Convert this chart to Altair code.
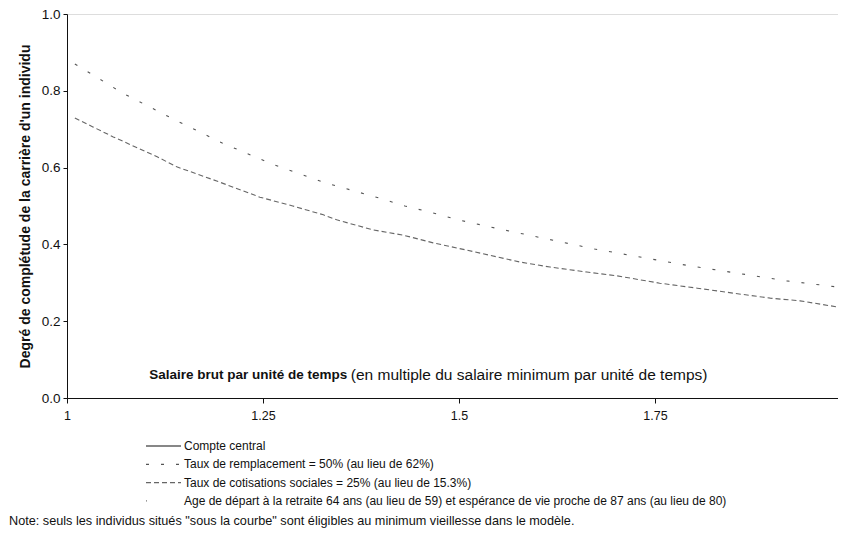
import altair as alt
import pandas as pd

# --- data ---
series_names = [
    "Compte central",
    "Taux de remplacement = 50% (au lieu de 62%)",
    "Taux de cotisations sociales = 25% (au lieu de 15.3%)",
    "Age de départ à la retraite 64 ans (au lieu de 59) et espérance de vie proche de 87 ans (au lieu de 80)",
]

remp_x = [1.010, 1.071, 1.135, 1.198, 1.262, 1.330, 1.398, 1.431, 1.467, 1.499,
          1.552, 1.673, 1.795, 1.918, 1.983]
remp_y = [0.870, 0.794, 0.727, 0.664, 0.609, 0.560, 0.521, 0.500, 0.482, 0.464,
          0.440, 0.388, 0.344, 0.305, 0.289]

cotis_x = [1.010, 1.033, 1.059, 1.115, 1.140, 1.191, 1.246, 1.288, 1.327, 1.344,
           1.390, 1.429, 1.467, 1.510, 1.578, 1.616, 1.663, 1.702, 1.756, 1.804,
           1.850, 1.897, 1.935, 1.983]
cotis_y = [0.729, 0.706, 0.680, 0.628, 0.602, 0.565, 0.523, 0.500, 0.477, 0.464,
           0.438, 0.424, 0.404, 0.385, 0.354, 0.341, 0.328, 0.318, 0.299, 0.286,
           0.273, 0.260, 0.253, 0.237]

x_ticks = [1, 1.25, 1.5, 1.75]
y_ticks = [0.0, 0.2, 0.4, 0.6, 0.8, 1.0]

x_title_bold = "Salaire brut par unité de temps"
x_title_rest = "(en multiple du salaire minimum par unité de temps)"
y_title = "Degré de complétude de la carrière d'un individu"
note = ("Note: seuls les individus situés \"sous la courbe\" sont éligibles "
        "au minimum vieillesse dans le modèle.")

rows = []
for xv, yv in zip(remp_x, remp_y):
    rows.append({"series": series_names[1], "x": xv, "y": yv})
for xv, yv in zip(cotis_x, cotis_y):
    rows.append({"series": series_names[2], "x": xv, "y": yv})
df = pd.DataFrame(rows)

ann_bold = pd.DataFrame([{"x": 1.105, "y": 0.06, "t": x_title_bold}])
ann_rest = pd.DataFrame([{"x": 1.362, "y": 0.06, "t": x_title_rest}])

FONT = "Liberation Sans"
X_MAX = 1.9834

xscale = alt.Scale(domain=[1, X_MAX], nice=False, zero=False)
yscale = alt.Scale(domain=[0, 1], nice=False)

lines = alt.Chart(df).mark_line(strokeWidth=1.1, clip=True).encode(
    x=alt.X("x:Q", scale=xscale,
            axis=alt.Axis(values=x_ticks, format="~g", title=None, grid=False,
                          labelFlush=False, tickSize=5, labelPadding=6,
                          labelFontSize=12.5, labelFont=FONT, labelColor="#111",
                          domainColor="#111", tickColor="#111")),
    y=alt.Y("y:Q", scale=yscale,
            axis=alt.Axis(values=y_ticks, format=".1f", title=y_title, grid=False,
                          tickSize=4, labelPadding=3, labelFontSize=13.5,
                          labelFont=FONT, labelColor="#111",
                          titleFont=FONT, titleFontSize=14, titleFontWeight="bold",
                          titleColor="#111", titlePadding=9,
                          domainColor="#111", tickColor="#111")),
    color=alt.Color("series:N",
                    scale=alt.Scale(domain=series_names,
                                    range=["#111111", "#555555", "#666666", "#777777"]),
                    legend=alt.Legend(title=None, orient="none", legendX=78, legendY=423,
                                      symbolType="stroke", symbolSize=1225,
                                      symbolStrokeWidth=1.2, clipHeight=18,
                                      rowPadding=0.3, labelOffset=2, padding=0,
                                      labelFont=FONT, labelFontSize=12,
                                      labelColor="#111", labelLimit=800)),
    strokeDash=alt.StrokeDash("series:N",
                              scale=alt.Scale(domain=series_names,
                                              range=[[1, 0], [3, 12], [5, 3], [1, 60]]),
                              legend=None),
    detail="series:N",
)

label_bold = alt.Chart(ann_bold).mark_text(align="left", baseline="middle", font=FONT,
                                           fontSize=13.5, fontWeight="bold",
                                           color="#111").encode(
    x=alt.X("x:Q", scale=xscale),
    y=alt.Y("y:Q", scale=yscale),
    text="t:N",
)
label_rest = alt.Chart(ann_rest).mark_text(align="left", baseline="middle", font=FONT,
                                           fontSize=15.5, fontWeight="normal",
                                           color="#111").encode(
    x=alt.X("x:Q", scale=xscale),
    y=alt.Y("y:Q", scale=yscale),
    text="t:N",
)

chart = alt.layer(lines, label_bold, label_rest).properties(
    width=771, height=384,
    autosize=alt.AutoSizeParams(type="none"),
    padding={"left": 59, "top": 6, "right": 0, "bottom": 140},
    title=alt.TitleParams(note, orient="bottom", anchor="start", frame="group",
                          font=FONT, fontSize=12.7, fontWeight="normal",
                          color="#111", offset=10, dy=-5, dx=-58),
).configure_view(stroke=None).configure(background="white")

chart.save("out.html", embed_options={"renderer": "svg", "actions": False})
